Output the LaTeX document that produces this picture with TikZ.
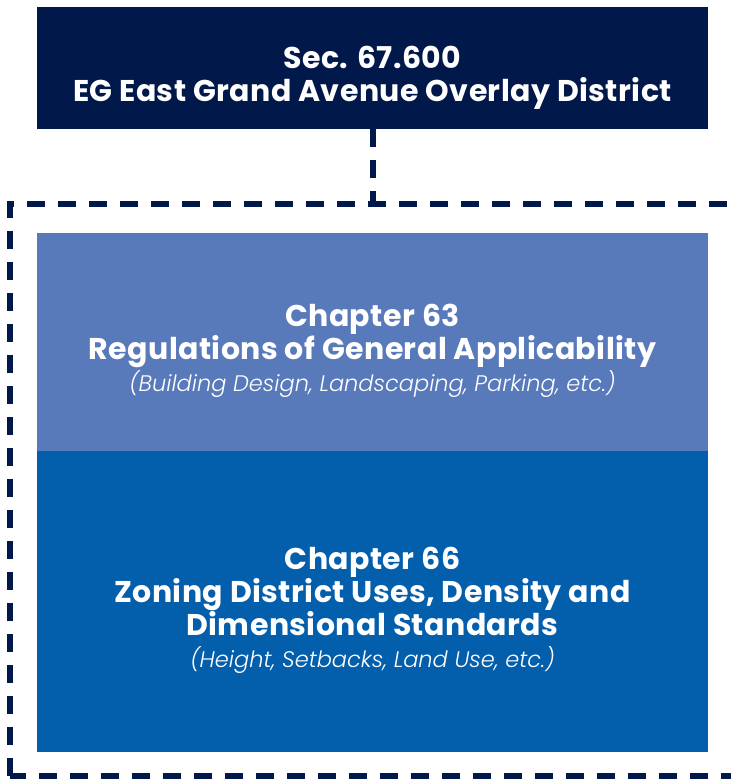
\documentclass[tikz,border=0pt]{standalone}
\usepackage{fontspec}
\setmainfont{Poppins}[LetterSpace=1.5]
\newfontfamily\parenfont{Poppins Light}[ItalicFont={Poppins Light Italic}]
\usetikzlibrary{positioning}

\definecolor{navy}{RGB}{0,24,74}
\definecolor{paleblue}{RGB}{88,122,186}
\definecolor{deepblue}{RGB}{3,94,171}

\begin{document}
\begin{tikzpicture}[
  x=1pt, y=1pt,
  every node/.style={align=center, text=white, inner sep=0pt},
  % Boxes
  secbox/.style={rectangle, fill=navy, minimum width=671pt, minimum height=122pt},
  chapbox/.style={rectangle, minimum width=671pt},
  % Box texts
  boxtext/.style={font=\fontsize{30}{33}\selectfont\bfseries},
  % Dashed lines
  dashline/.style={draw=navy, line width=6pt, dash pattern=on 18pt off 13pt}
]

\newcommand{\paren}[1]{{\parenfont\mdseries\itshape\fontsize{22.5}{26}\selectfont #1}}

\useasboundingbox (0,0) rectangle (731,780);

% === Overlay district ===
\node[secbox] (sec) at (372.5, 712) {};
\node[boxtext, yshift=-10pt] (sectext) at (sec.center) {Sec. 67.600\\EG East Grand Avenue Overlay District};

% === Dashed frame ===
\coordinate (framesw) at (10, 4);
\coordinate (framene) at (748, 576);
\draw[dashline] (framesw) rectangle (framene);

% Connector: section -> frame
\draw[dashline] (sec.south) -- (sec.south |- framene);

% === Chapters ===
\node[chapbox, fill=paleblue, minimum height=218pt] (ch63) at (372.5, 438) {};
\node[chapbox, fill=deepblue, minimum height=301pt, below=0pt of ch63] (ch66) {};

\node[boxtext, yshift=-9pt] (ch63text) at (ch63.center)
  {Chapter 63\\Regulations of General Applicability\\[-1pt]
   \paren{(Building Design, Landscaping, Parking, etc.)}};
\node[boxtext, yshift=-8pt] (ch66text) at (ch66.center)
  {Chapter 66\\Zoning District Uses, Density and\\Dimensional Standards\\[-1pt]
   \paren{(Height, Setbacks, Land Use, etc.)}};

\end{tikzpicture}
\end{document}
